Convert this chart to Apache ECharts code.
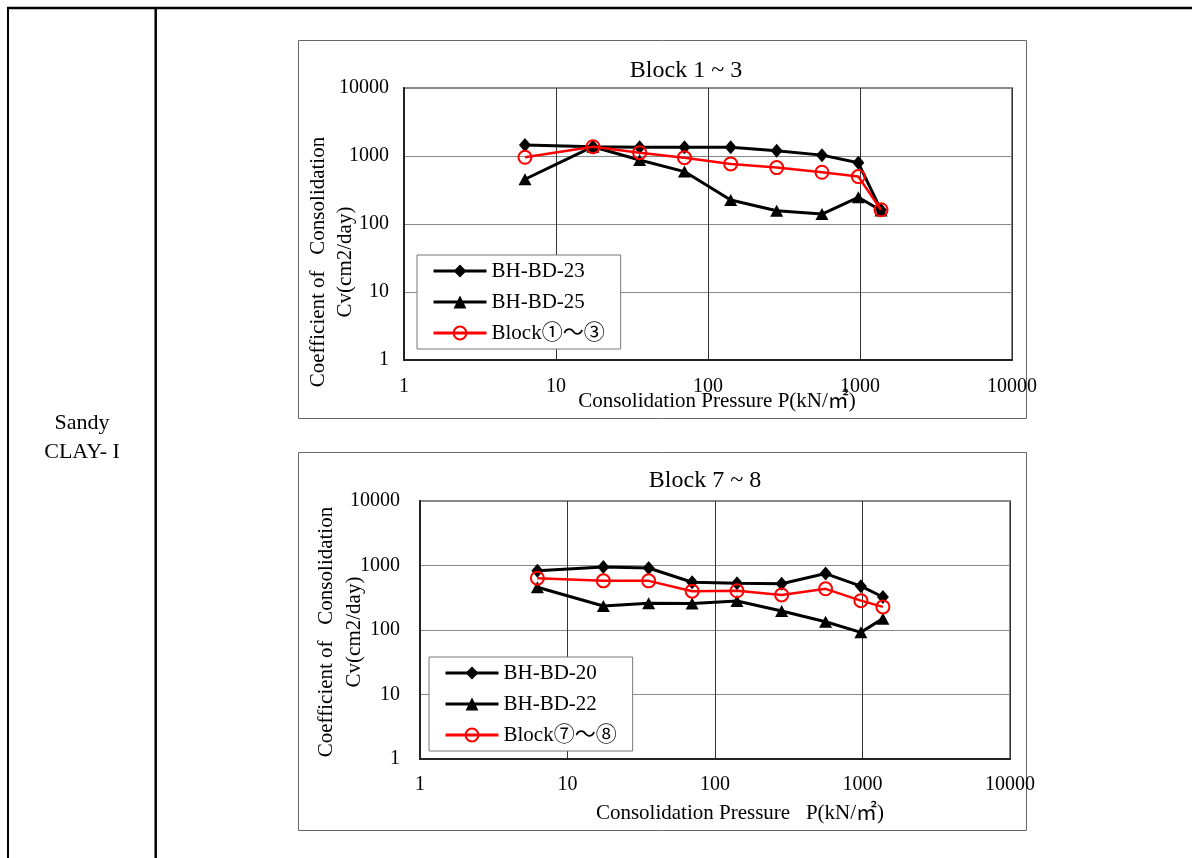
<!DOCTYPE html>
<html>
<head>
<meta charset="utf-8">
<script src="https://cdn.jsdelivr.net/npm/echarts@6/dist/echarts.min.js"></script>
<style>
html,body{margin:0;padding:0;background:#fff;}
#c{width:1192px;height:858px;}
</style>
</head>
<body>
<div id="c"></div>
<script>
// ---- data ----
const pressures = [6.25, 17.5, 35.5, 70, 141, 283, 562, 975, 1375];
const bhbd23 = [1450, 1370, 1340, 1340, 1340, 1190, 1030, 795, 160];
const bhbd25 = [455, 1370, 875, 590, 225, 157, 140, 247, 158];
const block13 = [957, 1370, 1120, 945, 765, 675, 577, 498, 162];
const bhbd20 = [830, 945, 915, 550, 533, 522, 750, 478, 325];
const bhbd22 = [460, 235, 260, 258, 282, 197, 134, 92, 150];
const block78 = [637, 578, 578, 400, 405, 350, 435, 285, 228];
const names1 = ['BH-BD-23', 'BH-BD-25', 'Block①～③'];
const names2 = ['BH-BD-20', 'BH-BD-22', 'Block⑦～⑧'];
const titles = ['Block 1 ~ 3', 'Block 7 ~ 8'];
const xTitle1 = 'Consolidation Pressure P(kN/㎡)';
const xTitle2 = 'Consolidation Pressure   P(kN/㎡)';
const yTitleA = 'Coefficient of   Consolidation';
const yTitleB = 'Cv(cm2/day)';
const rowLabel = ['Sandy', 'CLAY- I'];

const FONT = '"Liberation Serif", "Times New Roman", "Noto Sans CJK JP", serif';
const pairs = (xs, ys) => xs.map((x, i) => [x, ys[i]]);

function blackSeries(name, ys, sym, size, gi) {
  return {
    name, type: 'line', xAxisIndex: gi, yAxisIndex: gi,
    data: pairs(pressures, ys),
    symbol: sym, symbolSize: size,
    lineStyle: {color: '#000', width: 3},
    itemStyle: {color: '#000'},
    animation: false, z: 3
  };
}
function redSeries(name, ys, gi) {
  return {
    name, type: 'line', xAxisIndex: gi, yAxisIndex: gi,
    data: pairs(pressures, ys),
    symbol: 'circle', symbolSize: 13,
    lineStyle: {color: '#ff0000', width: 2.5},
    itemStyle: {color: 'rgba(255,255,255,0)', borderColor: '#ff0000', borderWidth: 2},
    animation: false, z: 4
  };
}
const plain = v => String(Math.round(v));
function xAxis(gi, margin) {
  return {
    type: 'log', logBase: 10, min: 1, max: 10000, gridIndex: gi,
    axisLine: {show: true, lineStyle: {color: '#222', width: 2}},
    axisTick: {show: false},
    axisLabel: {fontFamily: FONT, fontSize: 20, color: '#000', margin: margin, formatter: plain},
    splitLine: {show: true, lineStyle: {color: '#333', width: 1}}
  };
}
function yAxis(gi, margin) {
  return {
    type: 'log', logBase: 10, min: 1, max: 10000, gridIndex: gi,
    axisLine: {show: true, lineStyle: {color: '#222', width: 2}},
    axisTick: {show: false},
    axisLabel: {fontFamily: FONT, fontSize: 20, color: '#000', margin: margin, formatter: plain},
    splitLine: {show: true, lineStyle: {color: '#888', width: 1}}
  };
}
function legend(names, left, top) {
  return {
    data: names, orient: 'vertical', left: left, top: top,
    backgroundColor: '#fff',
    borderColor: '#777', borderWidth: 1,
    padding: [4, 16, 4, 15],
    itemWidth: 53, itemHeight: 16, itemGap: 7,
    lineStyle: {width: 3},
    textStyle: {fontFamily: FONT, fontSize: 21, color: '#000', lineHeight: 24},
    selectedMode: false
  };
}
const txt = (t, x, y, size, rot) => ({
  type: 'text', x: x, y: y, rotation: rot || 0, z: 10,
  style: {text: t, font: size + 'px ' + FONT, fill: '#000', align: 'center', verticalAlign: 'middle'}
});

const chart = echarts.init(document.getElementById('c'));
chart.setOption({
  backgroundColor: '#fff',
  animation: false,
  grid: [
    {left: 404, top: 88, width: 608, height: 272, show: true, borderColor: '#888', borderWidth: 2, backgroundColor: 'transparent'},
    {left: 420, top: 501, width: 590, height: 258, show: true, borderColor: '#888', borderWidth: 2, backgroundColor: 'transparent'}
  ],
  xAxis: [xAxis(0, 17), xAxis(1, 16)],
  yAxis: [yAxis(0, 15), yAxis(1, 20)],
  legend: [legend(names1, 417, 255), legend(names2, 429, 657)],
  series: [
    blackSeries(names1[0], bhbd23, 'diamond', [12, 14], 0),
    blackSeries(names1[1], bhbd25, 'triangle', [13, 12], 0),
    redSeries(names1[2], block13, 0),
    blackSeries(names2[0], bhbd20, 'diamond', [12, 14], 1),
    blackSeries(names2[1], bhbd22, 'triangle', [13, 12], 1),
    redSeries(names2[2], block78, 1)
  ],
  graphic: [
    {type: 'line', shape: {x1: 7, y1: 8, x2: 1192, y2: 8}, style: {stroke: '#000', lineWidth: 2.5}},
    {type: 'line', shape: {x1: 8, y1: 8, x2: 8, y2: 858}, style: {stroke: '#000', lineWidth: 2}},
    {type: 'line', shape: {x1: 155.7, y1: 8, x2: 155.7, y2: 858}, style: {stroke: '#000', lineWidth: 2.5}},
    {type: 'rect', shape: {x: 298.5, y: 40.5, width: 728, height: 378}, style: {fill: 'none', stroke: '#666', lineWidth: 1}, z: -1},
    {type: 'rect', shape: {x: 298.5, y: 452.5, width: 728, height: 378}, style: {fill: 'none', stroke: '#666', lineWidth: 1}, z: -1},
    txt(rowLabel[0], 82, 423, 22),
    txt(rowLabel[1], 82, 452, 22),
    txt(titles[0], 686, 71, 24),
    txt(titles[1], 705, 481, 24),
    txt(xTitle1, 717, 401, 21),
    txt(xTitle2, 740, 813, 21),
    txt(yTitleA, 318, 262, 21, Math.PI / 2),
    txt(yTitleB, 345, 262, 21, Math.PI / 2),
    txt(yTitleA, 326, 632, 21, Math.PI / 2),
    txt(yTitleB, 354, 632, 21, Math.PI / 2)
  ]
});
</script>
</body>
</html>
